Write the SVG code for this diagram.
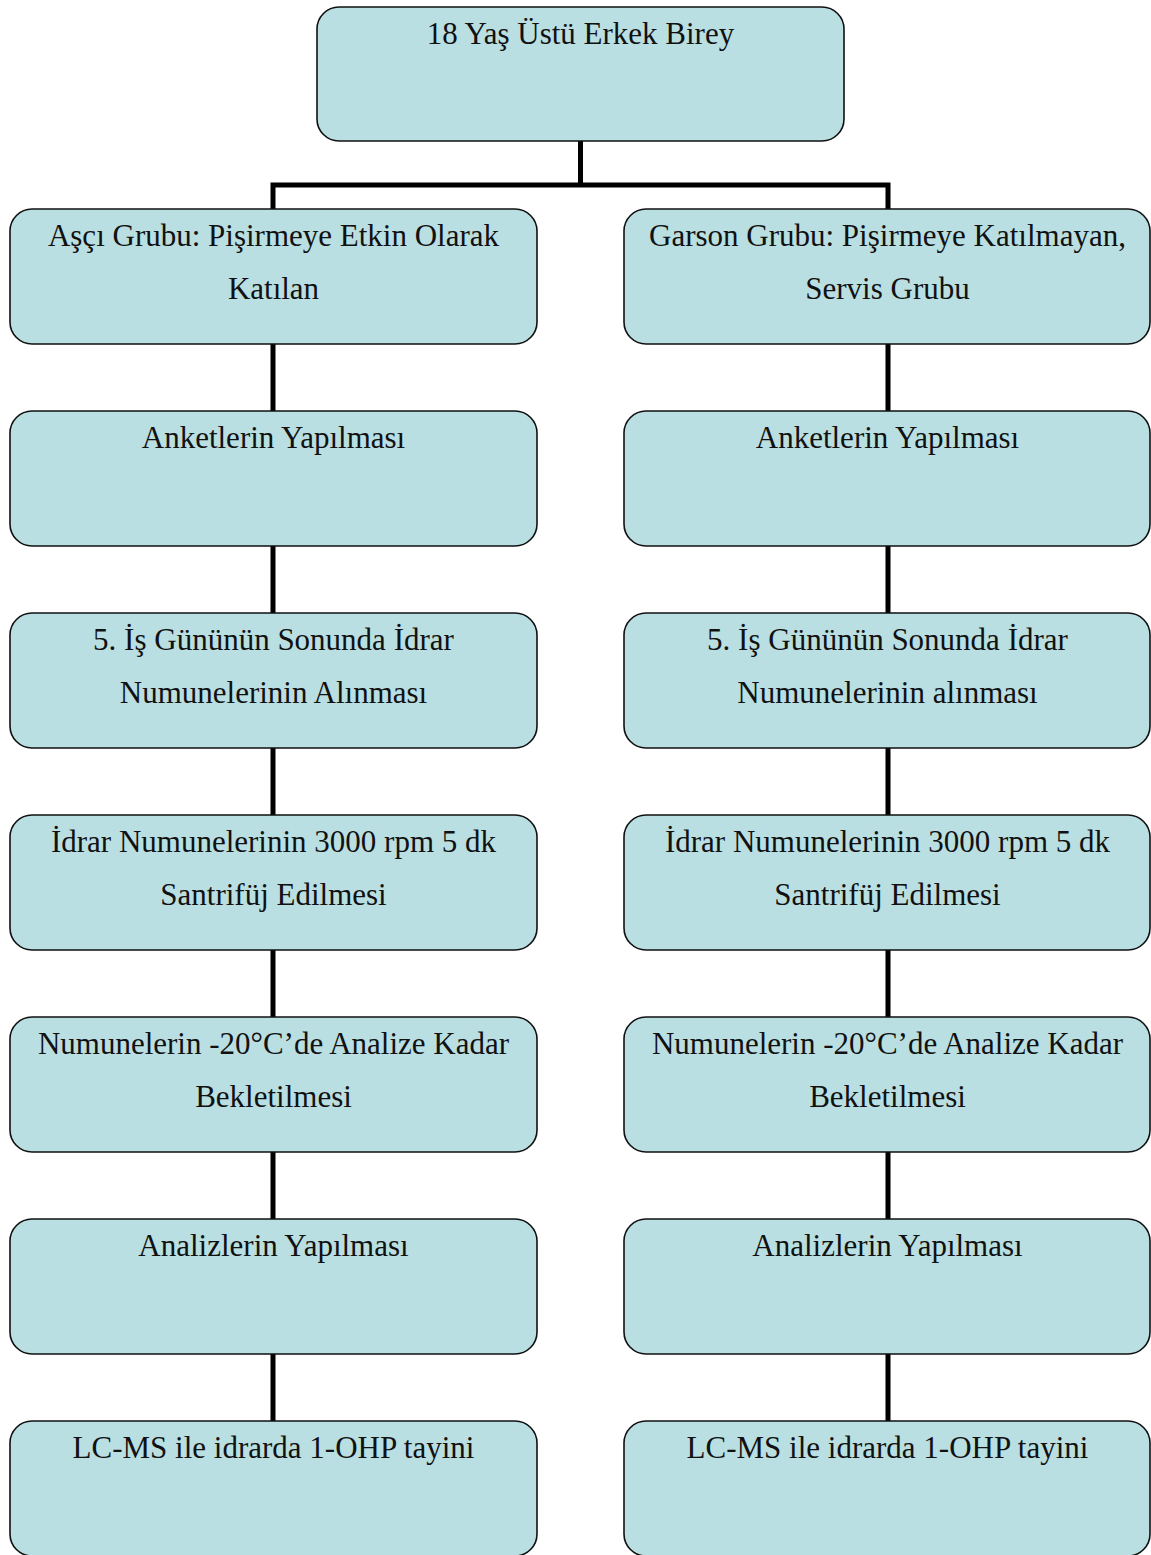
<svg xmlns="http://www.w3.org/2000/svg" width="1151" height="1555" viewBox="0 0 1151 1555">
<style>
.box{fill:#BADFE2;stroke:#111;stroke-width:1.6}
.t{font-family:"Liberation Serif","Times New Roman",serif;font-size:31px;fill:#111;text-anchor:middle}
.c{stroke:#000;stroke-width:5;fill:none}
</style>
<rect width="1151" height="1555" fill="#fff"/>
<g id="connectors">
<path class="c" d="M580.5 141V185M273 185H888M273 182.5V209M888 182.5V209"/>
<path class="c" d="M273 344V411M273 546V613M273 748V815M273 950V1017M273 1152V1219M273 1354V1421"/>
<path class="c" d="M888 344V411M888 546V613M888 748V815M888 950V1017M888 1152V1219M888 1354V1421"/>
</g>
<g id="n0"><rect class="box" x="317" y="7" width="527" height="134" rx="22"/><text class="t" x="580.5" y="44">18 Yaş Üstü Erkek Birey</text></g>
<g id="L1"><rect class="box" x="10" y="209" width="527" height="135" rx="22"/><text class="t" x="273.5" y="246">Aşçı Grubu: Pişirmeye Etkin Olarak</text><text class="t" x="273.5" y="299">Katılan</text></g>
<g id="R1"><rect class="box" x="624" y="209" width="526" height="135" rx="22"/><text class="t" x="887.5" y="246">Garson Grubu: Pişirmeye Katılmayan,</text><text class="t" x="887.5" y="299">Servis Grubu</text></g>
<g id="L2"><rect class="box" x="10" y="411" width="527" height="135" rx="22"/><text class="t" x="273.5" y="448">Anketlerin Yapılması</text></g>
<g id="R2"><rect class="box" x="624" y="411" width="526" height="135" rx="22"/><text class="t" x="887.5" y="448">Anketlerin Yapılması</text></g>
<g id="L3"><rect class="box" x="10" y="613" width="527" height="135" rx="22"/><text class="t" x="273.5" y="650">5. İş Gününün Sonunda İdrar</text><text class="t" x="273.5" y="703">Numunelerinin Alınması</text></g>
<g id="R3"><rect class="box" x="624" y="613" width="526" height="135" rx="22"/><text class="t" x="887.5" y="650">5. İş Gününün Sonunda İdrar</text><text class="t" x="887.5" y="703">Numunelerinin alınması</text></g>
<g id="L4"><rect class="box" x="10" y="815" width="527" height="135" rx="22"/><text class="t" x="273.5" y="852">İdrar Numunelerinin 3000 rpm 5 dk</text><text class="t" x="273.5" y="905">Santrifüj Edilmesi</text></g>
<g id="R4"><rect class="box" x="624" y="815" width="526" height="135" rx="22"/><text class="t" x="887.5" y="852">İdrar Numunelerinin 3000 rpm 5 dk</text><text class="t" x="887.5" y="905">Santrifüj Edilmesi</text></g>
<g id="L5"><rect class="box" x="10" y="1017" width="527" height="135" rx="22"/><text class="t" x="273.5" y="1054">Numunelerin -20°C’de Analize Kadar</text><text class="t" x="273.5" y="1107">Bekletilmesi</text></g>
<g id="R5"><rect class="box" x="624" y="1017" width="526" height="135" rx="22"/><text class="t" x="887.5" y="1054">Numunelerin -20°C’de Analize Kadar</text><text class="t" x="887.5" y="1107">Bekletilmesi</text></g>
<g id="L6"><rect class="box" x="10" y="1219" width="527" height="135" rx="22"/><text class="t" x="273.5" y="1256">Analizlerin Yapılması</text></g>
<g id="R6"><rect class="box" x="624" y="1219" width="526" height="135" rx="22"/><text class="t" x="887.5" y="1256">Analizlerin Yapılması</text></g>
<g id="L7"><rect class="box" x="10" y="1421" width="527" height="135" rx="22"/><text class="t" x="273.5" y="1458">LC-MS ile idrarda 1-OHP tayini</text></g>
<g id="R7"><rect class="box" x="624" y="1421" width="526" height="135" rx="22"/><text class="t" x="887.5" y="1458">LC-MS ile idrarda 1-OHP tayini</text></g>
</svg>
